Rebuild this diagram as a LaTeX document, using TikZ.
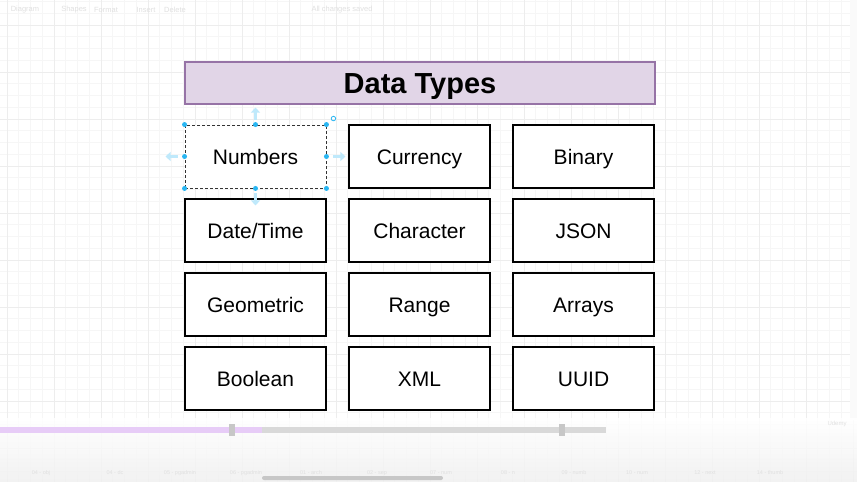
\documentclass[tikz,border=0pt]{standalone}
\usepackage{fontspec}
\setmainfont{Liberation Sans}
\usetikzlibrary{arrows.meta}
\definecolor{titlefill}{HTML}{E1D5E7}
\definecolor{titleline}{HTML}{9673A6}
\definecolor{grip}{HTML}{29B6F2}
\definecolor{minorgrid}{HTML}{F6F6F6}
\definecolor{majorgrid}{HTML}{EDEDED}
\definecolor{played}{HTML}{E7CCF7}
\definecolor{track}{HTML}{D9D9D9}
\tikzset{%
  titlebox/.style = {shape=rectangle, draw=titleline, fill=titlefill,%
                     line width=1.2pt, minimum width=470pt, minimum height=42pt,%
                     inner sep=0pt, text height=20pt, text depth=0pt,%
                     font=\fontsize{29}{32}\selectfont\bfseries},%
  typebox/.style  = {shape=rectangle, draw, fill=white, line width=1.1pt,%
                     minimum width=141pt, minimum height=63pt, inner sep=0pt,%
                     text height=15pt, text depth=0pt,%
                     font=\fontsize{21}{25}\selectfont},%
  picked/.style   = {typebox, densely dashed, line width=0.9pt, draw=black!80},%
  dot/.style      = {circle, fill=grip, inner sep=0pt, minimum size=5pt},%
  hint/.style     = {-{Triangle[length=5pt,width=9pt]}, line width=2.6pt, grip!30},%
  uitext/.style   = {text=black!12, inner sep=0pt}%
}

\begin{document}
\begin{tikzpicture}[x=1pt,y=-1pt]
  \useasboundingbox (0,0) rectangle (857,482);
  \fill[white] (0,0) rectangle (857,482);
  % canvas grid
  \foreach \k in {0,...,72}
    \draw[minorgrid, line width=0.6pt] ({7+\k*11.75},0) -- ({7+\k*11.75},482);
  \foreach \k in {0,...,41}
    \draw[minorgrid, line width=0.6pt] (0,{1.5+\k*11.75}) -- (857,{1.5+\k*11.75});
  \foreach \k in {0,...,18}
    \draw[majorgrid, line width=0.7pt] ({7+\k*47},0) -- ({7+\k*47},482);
  \foreach \k in {0,...,10}
    \draw[majorgrid, line width=0.7pt] (0,{25+\k*47}) -- (857,{25+\k*47});
  \fill[black!2] (850,0) rectangle (857,420);

  % toolbar
  \node[uitext, font=\fontsize{7.5}{9}\selectfont] (tdiag) at (25,10) {Diagram};
  \node[uitext, font=\fontsize{7.5}{9}\selectfont] (tshapes) at (74,10) {Shapes};
  \node[uitext, font=\fontsize{7.5}{9}\selectfont] (tformat) at (106,10) {Format};
  \node[uitext, font=\fontsize{7.5}{9}\selectfont] (tinsert) at (146,10) {Insert};
  \node[uitext, font=\fontsize{7.5}{9}\selectfont] (tdelete) at (175,10) {Delete};
  \node[uitext, font=\fontsize{7.5}{9}\selectfont] (tsaved) at (342,10) {All changes saved};

  % diagram
  \node[titlebox] (title) at (420,83) {Data Types};

  \node[picked]  (numbers)   at (255.5,156.5) {Numbers};
  \node[typebox] (currency)  at (419.5,156.5) {Currency};
  \node[typebox] (binary)    at (583.5,156.5) {Binary};
  \node[typebox] (datetime)  at (255.5,230.5) {Date/Time};
  \node[typebox] (character) at (419.5,230.5) {Character};
  \node[typebox] (json)      at (583.5,230.5) {JSON};
  \node[typebox] (geometric) at (255.5,304.5) {Geometric};
  \node[typebox] (range)     at (419.5,304.5) {Range};
  \node[typebox] (arrays)    at (583.5,304.5) {Arrays};
  \node[typebox] (boolean)   at (255.5,378.5) {Boolean};
  \node[typebox] (xml)       at (419.5,378.5) {XML};
  \node[typebox] (uuid)      at (583.5,378.5) {UUID};

  % selection handles
  \foreach \a in {north west,north,north east,east,south east,south,south west,west}
    \node[dot] at (numbers.\a) {};
  \draw[hint] ([yshift=5pt]numbers.north) -- ([yshift=17pt]numbers.north);
  \draw[hint] ([yshift=-5pt]numbers.south) -- ([yshift=-17pt]numbers.south);
  \draw[hint] ([xshift=-7pt]numbers.west) -- ([xshift=-19pt]numbers.west);
  \draw[hint] ([xshift=7pt]numbers.east) -- ([xshift=19pt]numbers.east);
  \node[circle, draw=grip, line width=0.8pt, inner sep=0pt, minimum size=4.5pt]
    (rotate) at ([xshift=7pt,yshift=6pt]numbers.north east) {};

  % player overlay
  \shade[top color=white, bottom color=black!6, opacity=0.85] (0,418) rectangle (857,482);
  \fill[track]  (262,427) rectangle (606,433);
  \fill[played] (0,427) rectangle (262,433);
  \fill[black!22] (229,424) rectangle (235,436);
  \fill[black!22] (559,424) rectangle (565,436);
  \fill[black!22, rounded corners=2pt] (262,476) rectangle (443,480);
  \node[uitext, font=\fontsize{6}{7}\selectfont] (udemy) at (837,424) {Udemy};
  \foreach \x/\t in {41/04 - obj,115/04 - dc,180/05 - pgadmin,246/06 - pgadmin,311/01 - arch,377/02 - sep,441/07 - num,508/08 - n,574/09 - numb,637/10 - num,705/12 - next,770/14 - thumb}
    \node[uitext, font=\fontsize{5.5}{7}\selectfont] at (\x,473) {\t};
\end{tikzpicture}
\end{document}
